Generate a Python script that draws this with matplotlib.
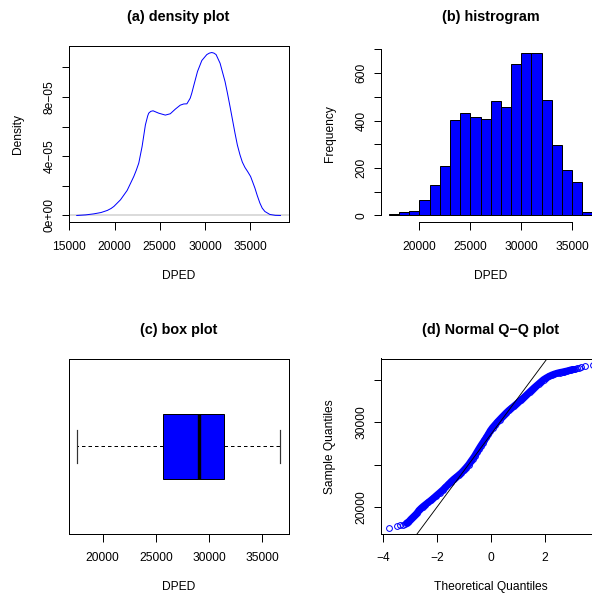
import numpy as np
import matplotlib
matplotlib.use("Agg")
import matplotlib.pyplot as plt
from matplotlib.ticker import FixedLocator, FixedFormatter

plt.rcParams['font.family'] = ['Liberation Sans', 'DejaVu Sans']
plt.rcParams['font.size'] = 12
plt.rcParams['axes.linewidth'] = 1.0

MINUS = '\u2212'
BLUE = '#0000FF'

# ---- kernel density estimate of DPED ----
density_x = [15805, 16800, 17700, 18500, 19190, 19600, 19919, 20654, 21389, 22125,
             22400, 22676, 23044, 23411, 23668, 23779, 24000, 24257, 24882, 25617,
             26169, 26720, 27272, 27650, 28007, 28375, 28550, 28742, 29183, 29661,
             30213, 30500, 30764, 31000, 31242, 31683, 32235, 32500, 32786, 33337,
             33600, 33889, 34150, 34440, 34750, 35065, 35300, 35543, 35800, 36094,
             36350, 36646, 37197, 37800, 38373]
density_y_e5 = [0.00, 0.04, 0.11, 0.20, 0.34, 0.47, 0.61, 1.06, 1.69, 2.63,
                3.05, 3.53, 4.65, 6.11, 6.72, 6.90, 7.02, 7.06, 6.90, 6.77,
                6.86, 7.17, 7.44, 7.52, 7.53, 7.91, 8.25, 8.70, 9.71, 10.45,
                10.85, 10.95, 10.99, 10.95, 10.85, 10.27, 9.03, 8.25, 7.35, 5.55,
                4.75, 4.09, 3.60, 3.24, 2.95, 2.63, 2.25, 1.85, 1.35, 0.84,
                0.50, 0.27, 0.07, 0.01, 0.00]

# ---- histogram of DPED ----
bin_edges = [17000, 18000, 19000, 20000, 21000, 22000, 23000, 24000, 25000, 26000,
             27000, 28000, 29000, 30000, 31000, 32000, 33000, 34000, 35000, 36000, 37000]
bin_counts = [5, 14, 18, 65, 130, 209, 403, 430, 416, 408,
              483, 459, 640, 683, 687, 487, 297, 192, 141, 16]

# ---- five-number summary ----
whisker_low = 17560
q1 = 25650
median = 29070
q3 = 31440
whisker_high = 36716

# ---- normal Q-Q pairs ----
qq_theoretical = [-3.77, -3.49, -3.35, -3.25, -3.18, -3.12, -3.07, -3.03,
                  -2.96, -2.88, -2.80, -2.74, -2.66, -2.58, -2.51, -2.42, -2.32, -2.22,
                  -2.13, -2.02, -1.90, -1.78, -1.68, -1.57, -1.47, -1.37, -1.28, -1.19,
                  -1.10, -1.01, -0.92, -0.82, -0.74, -0.67, -0.60, -0.52, -0.45, -0.38,
                  -0.31, -0.24, -0.17, -0.10, -0.02,
                  0.06, 0.15, 0.24, 0.32, 0.41, 0.49, 0.57, 0.66, 0.75, 0.84, 0.93,
                  1.02, 1.11, 1.19, 1.27, 1.35, 1.43, 1.51, 1.59, 1.68, 1.77, 1.86, 1.95,
                  2.05, 2.15, 2.25, 2.35, 2.45, 2.55, 2.65, 2.72, 2.80, 2.90, 2.96,
                  3.03, 3.07, 3.12, 3.18, 3.25, 3.35, 3.49, 3.77]
qq_sample = [17560, 17780, 17850, 17930, 18010, 18100, 18200, 18300,
             18550, 18800, 19050, 19250, 19600, 19850, 20050, 20280, 20530, 20780,
             21020, 21330, 21660, 22000, 22320, 22660, 22990, 23280, 23510, 23750,
             24000, 24300, 24620, 25000, 25370, 25680, 26010, 26440, 26810, 27170,
             27510, 27840, 28190, 28550, 28990,
             29340, 29670, 30000, 30270, 30570, 30830, 31090, 31360, 31600, 31840, 32080,
             32330, 32590, 32810, 33040, 33280, 33530, 33770, 34010, 34260, 34510, 34760, 35000,
             35200, 35380, 35530, 35650, 35750, 35830, 35890, 35945, 36000, 36080, 36140,
             36200, 36240, 36290, 36350, 36410, 36480, 36570, 36716]

W, H = 592, 596
fig = plt.figure(figsize=(W / 72, H / 72), dpi=72)


def place(left, top, width, height):
    return fig.add_axes([left / W, 1 - (top + height) / H, width / W, height / H])


def style(ax, height, title, xlabel, ylabel=None, row=1):
    ax.set_title(title, fontsize=14.4, fontweight='bold', y=1 + 28.7 / height,
                 va='center', pad=0)
    ax.tick_params(direction='out', length=7.5, width=1, color='black',
                   labelsize=12)
    ax.tick_params(axis='x', pad=11.5 if row == 1 else 10)
    ax.tick_params(axis='y', labelrotation=90, pad=5.5)
    for lab in ax.get_yticklabels():
        lab.set_va('center')
    ax.set_xlabel(xlabel, fontsize=12)
    ax.xaxis.set_label_coords(0.5, -(57.4 if row == 1 else 55.6) / height)
    ax.xaxis.label.set_va('baseline')
    if ylabel:
        ax.set_ylabel(ylabel, fontsize=12)
        ax.yaxis.set_label_coords(-51.0 / 220, 0.5)
        ax.yaxis.label.set_va('center')


# (a) density plot
ax = place(68.6, 46, 220, 176)
dy = np.array(density_y_e5) * 1e-5
ax.axhline(0, color='#d3d3d3', lw=1.6, zorder=1)
ax.plot(density_x, dy, color=BLUE, lw=1.0, zorder=2)
ax.margins(0.04)
xt = [15000, 20000, 25000, 30000, 35000]
ax.xaxis.set_major_locator(FixedLocator(xt))
ax.xaxis.set_major_formatter(FixedFormatter([str(v) for v in xt]))
yt = [0, 2e-5, 4e-5, 6e-5, 8e-5, 1e-4]
ax.yaxis.set_major_locator(FixedLocator(yt))
ax.yaxis.set_major_formatter(FixedFormatter(
    ['0e+00', '', '4e' + MINUS + '05', '', '8e' + MINUS + '05', '']))
style(ax, 176, '(a) density plot', 'DPED', 'Density', row=1)

# (b) histogram
ax = place(380.6, 46, 220.2, 176)
edges = np.array(bin_edges)
counts = np.array(bin_counts)
ax.bar(edges[:-1], counts, width=np.diff(edges), align='edge',
       color=BLUE, edgecolor='black', linewidth=1.0)
span = edges[-1] - edges[0]
ax.set_xlim(edges[0] - 0.04 * span, edges[-1] + 0.04 * span)
ax.set_ylim(-0.04 * counts.max(), 1.04 * counts.max())
for s in ('top', 'right'):
    ax.spines[s].set_visible(False)
xt = [20000, 25000, 30000, 35000]
ax.spines['bottom'].set_bounds(xt[0], xt[-1])
ax.xaxis.set_major_locator(FixedLocator(xt))
ax.xaxis.set_major_formatter(FixedFormatter([str(v) for v in xt]))
yt = list(range(0, 800, 100))
ax.spines['left'].set_bounds(yt[0], yt[-1])
ax.yaxis.set_major_locator(FixedLocator(yt))
ax.yaxis.set_major_formatter(FixedFormatter(
    [str(v) if v % 200 == 0 else '' for v in yt]))
style(ax, 176, '(b) histrogram', 'DPED', 'Frequency', row=1)

# (c) box plot
ax = place(68.6, 358.5, 220, 175.7)
stats = [dict(whislo=whisker_low, q1=q1, med=median, q3=q3, whishi=whisker_high,
              fliers=[])]
ax.bxp(stats, positions=[1], widths=0.4, capwidths=0.2, vert=False,
       patch_artist=True, showfliers=False,
       boxprops=dict(facecolor=BLUE, edgecolor='black', linewidth=1.0),
       medianprops=dict(color='black', linewidth=3.4, solid_capstyle='butt'),
       whiskerprops=dict(color='black', linewidth=1.0, linestyle=(0, (3.5, 3))),
       capprops=dict(color='#333333', linewidth=1.2))
rng = whisker_high - whisker_low
ax.set_xlim(whisker_low - 0.04 * rng, whisker_high + 0.04 * rng)
ax.set_ylim(0.5 - 0.04, 1.5 + 0.04)
ax.yaxis.set_visible(False)
xt = [20000, 25000, 30000, 35000]
ax.xaxis.set_major_locator(FixedLocator(xt))
ax.xaxis.set_major_formatter(FixedFormatter([str(v) for v in xt]))
style(ax, 175.7, '(c) box plot', 'DPED', None, row=2)

# (d) normal Q-Q plot
ax = place(380.8, 358.5, 220.2, 175.7)
tq = np.array(qq_theoretical)
sq = np.array(qq_sample)
band = (tq >= -3.12) & (tq <= 3.03)
ax.plot(tq[band], sq[band], color=BLUE, lw=7.0, solid_capstyle='round',
        solid_joinstyle='round')
ax.plot(tq, sq, linestyle='none', marker='o', markersize=5.8,
        markerfacecolor='none', markeredgecolor=BLUE, markeredgewidth=1.0)
ax.margins(0.04)
z75 = 0.6745
slope = (q3 - q1) / (2 * z75)
ax.axline((0, q1 + z75 * slope), slope=slope, color='black', lw=0.9)
xt = [-4, -2, 0, 2, 4]
ax.xaxis.set_major_locator(FixedLocator(xt))
# the tick at 4 sits past the right edge of the canvas, so it carries no label
ax.xaxis.set_major_formatter(FixedFormatter(
    [str(v).replace('-', MINUS) if v < 4 else '' for v in xt]))
yt = [20000, 25000, 30000, 35000]
ax.yaxis.set_major_locator(FixedLocator(yt))
ax.yaxis.set_major_formatter(FixedFormatter(
    [str(v) if v % 10000 == 0 else '' for v in yt]))
style(ax, 175.7, '(d) Normal Q' + MINUS + 'Q plot', 'Theoretical Quantiles',
      'Sample Quantiles', row=2)

fig.savefig('out.png', dpi=72)
